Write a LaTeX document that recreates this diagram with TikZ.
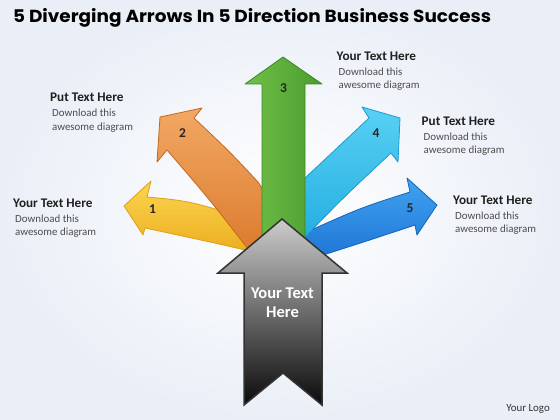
\documentclass[tikz,border=0pt]{standalone}
\usepackage{fontspec}
\setmainfont{Carlito}
\newfontfamily\titlefont{Poppins}
\definecolor{bgout}{RGB}{234,239,247}
\definecolor{ylight}{RGB}{250,214,80}
\definecolor{ydark}{RGB}{236,172,30}
\definecolor{yedge}{RGB}{224,160,24}
\definecolor{olight}{RGB}{242,168,100}
\definecolor{odark}{RGB}{218,120,42}
\definecolor{oedge}{RGB}{196,104,30}
\definecolor{glight}{RGB}{112,192,72}
\definecolor{gdark}{RGB}{74,156,46}
\definecolor{gedge}{RGB}{60,136,36}
\definecolor{clight}{RGB}{88,208,244}
\definecolor{cdark}{RGB}{34,172,224}
\definecolor{cedge}{RGB}{26,156,210}
\definecolor{blight}{RGB}{66,162,240}
\definecolor{bdark}{RGB}{28,116,212}
\definecolor{bedge}{RGB}{22,100,190}
\begin{document}
\begin{tikzpicture}[x=1pt,y=-1pt,
  arrowline/.style={line width=0.8pt, line join=round},
  numlabel/.style={font=\fontsize{13.5}{13.5}\selectfont\bfseries, text=black!85, inner sep=0pt},
  blocktitle/.style={anchor=base west, inner sep=0pt, font=\fontsize{13.2}{13.2}\selectfont\bfseries, text=black!88},
  blockline/.style={anchor=base west, inner sep=0pt, font=\fontsize{10.9}{10.9}\selectfont, text=black!70}]
\useasboundingbox (0,0) rectangle (560,420);
\shade[inner color=white, outer color=bgout] (0,0) rectangle (560,420);

% title
\node[anchor=base west, inner sep=0pt] (title) at (13,23)
  {\resizebox{478pt}{14pt}{\titlefont\bfseries 5 Diverging Arrows In 5 Direction Business Success}};

% yellow arrow 1
\shade[top color=ylight, bottom color=ydark, draw=yedge, arrowline]
  (124,206) -- (151,181) -- (147,197) .. controls (190,201) .. (258,222)
  -- (262,254) .. controls (215,243) .. (145,228) -- (143,235) -- cycle;
% blue arrow 5
\shade[top color=blight, bottom color=bdark, draw=bedge, arrowline]
  (437,205) -- (407,178) -- (410,192) .. controls (360,208) .. (300,235)
  -- (300,262) -- (317,257) .. controls (370,240) .. (415,225) -- (417,235) -- cycle;
% orange arrow 2
\shade[top color=olight, bottom color=odark, draw=oedge, arrowline]
  (160,117) -- (202,108) -- (194,118) .. controls (230,152) .. (258,182)
  -- (270,200) -- (270,262) -- (255,258) .. controls (210,200) .. (167,150)
  -- (157,162) -- cycle;
% cyan arrow 4
\shade[top color=clight, bottom color=cdark, draw=cedge, arrowline]
  (400,118) -- (398,162) -- (391,153) .. controls (345,196) .. (305,237)
  -- (295,247) -- (295,190) -- (305,178) .. controls (335,150) .. (369,118)
  -- (362,107) -- cycle;
% green arrow 3
\shade[left color=glight, right color=gdark, draw=gedge, arrowline]
  (283,57) -- (322,84) -- (305,84) -- (305,262) -- (262,262) -- (262,84)
  -- (245,84) -- cycle;

% black arrow
\shade[top color=black!20, middle color=black!62, bottom color=black!96,
  draw=black!80, line width=1.5pt, line join=miter]
  (282,219) -- (347,273) -- (322,273) -- (322,405) -- (283,373) -- (244,405)
  -- (244,273) -- (218,273) -- cycle;
\node[font=\fontsize{16.5}{18.5}\selectfont\bfseries, text=white, align=center, inner sep=0pt]
  (main) at (282.5,302.5) {Your Text\\Here};

% numbers
\node[numlabel] (n1) at (152.5,209.5) {1};
\node[numlabel] (n2) at (182.5,133.5) {2};
\node[numlabel] (n3) at (283.5,88.5) {3};
\node[numlabel] (n4) at (376,133.5) {4};
\node[numlabel] (n5) at (410,208.5) {5};

% text blocks
\node[blocktitle] (t1) at (13,207) {Your Text Here};
\node[blockline] (t1a) at (15,222) {Download this};
\node[blockline] (t1b) at (15,235) {awesome diagram};

\node[blocktitle] (t2) at (50,102) {Put Text Here};
\node[blockline] (t2a) at (52,117) {Download this};
\node[blockline] (t2b) at (52,130) {awesome diagram};

\node[blocktitle] (t3) at (336.5,60.5) {Your Text Here};
\node[blockline] (t3a) at (338.5,75.5) {Download this};
\node[blockline] (t3b) at (338.5,88.5) {awesome diagram};

\node[blocktitle] (t4) at (421.5,125) {Put Text Here};
\node[blockline] (t4a) at (423.5,140) {Download this};
\node[blockline] (t4b) at (423.5,153) {awesome diagram};

\node[blocktitle] (t5) at (453,204) {Your Text Here};
\node[blockline] (t5a) at (455,219) {Download this};
\node[blockline] (t5b) at (455,232) {awesome diagram};

\node[blockline, anchor=base east, text=black!80] (logo) at (550,411) {Your Logo};
\end{tikzpicture}
\end{document}
